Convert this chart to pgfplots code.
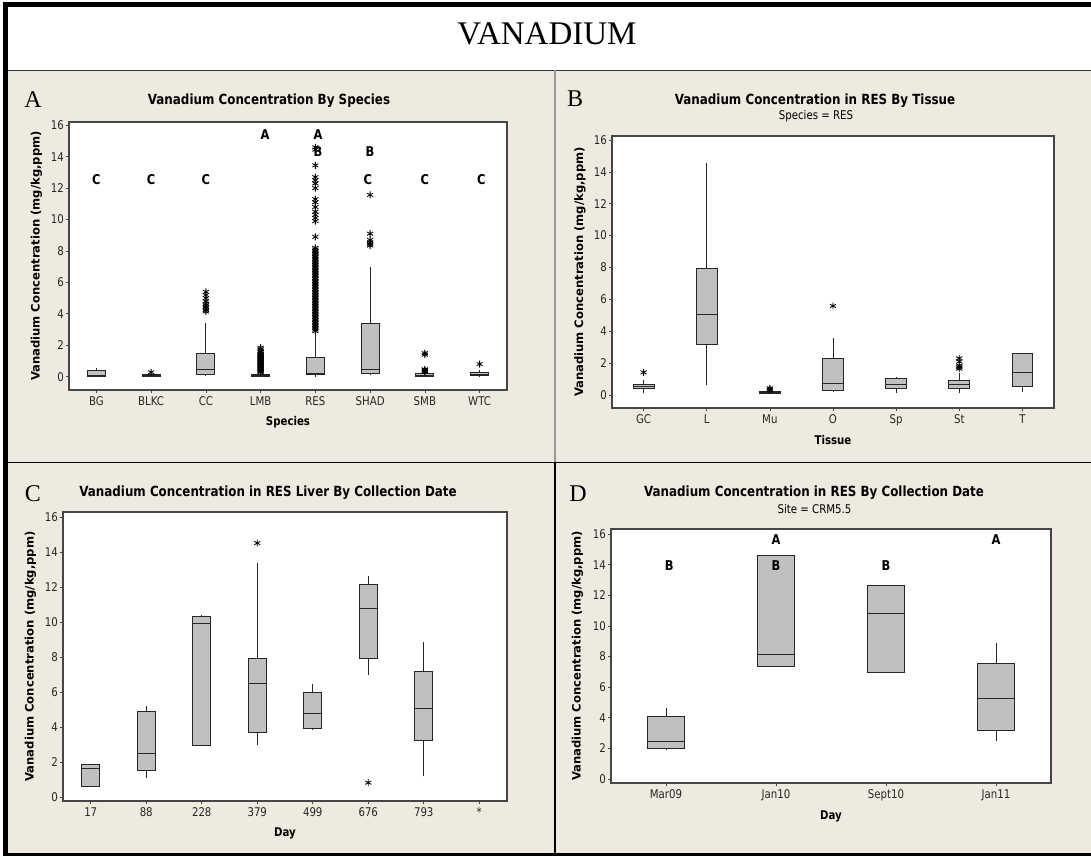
\documentclass[border=0pt]{standalone}
\usepackage{pgfplots}
\pgfplotsset{compat=1.18}
\usepgfplotslibrary{statistics}
\usepackage{fontspec}
\setmainfont{Liberation Serif}
\newfontfamily\mt[FakeStretch=0.85]{DejaVu Sans}
\newfontfamily\mtw{DejaVu Sans}

\definecolor{panelbg}{RGB}{238,234,224}
\definecolor{boxfill}{RGB}{192,192,192}
\definecolor{framegray}{RGB}{70,70,70}

\tikzset{grp/.style={font=\mt\bfseries\fontsize{13.5}{14}\selectfont}}

\pgfplotsset{
  mtaxis/.style={
    scale only axis,
    anchor=south west,
    axis background/.style={fill=white},
    axis line style={draw=framegray, line width=1.1pt},
    tick style={draw=framegray, line width=0.7pt},
    tick align=outside,
    major tick length=3pt,
    xtick pos=bottom, ytick pos=left,
    ytick={0,2,...,16},
    /pgf/number format/assume math mode=true,
    tick label style={font=\mt\fontsize{12}{12}\selectfont, text=black!85},
    yticklabel style={inner sep=2pt},
    xlabel style={font=\mt\bfseries\fontsize{12}{12}\selectfont, anchor=base},
    ylabel style={font=\mtw\bfseries\fontsize{11.6}{12}\selectfont, anchor=center},
    clip=false,
  },
  mtbox/.style={
    draw=black!85, fill=boxfill, line width=1pt,
    mark=asterisk, mark size=3.5pt,
    mark options={draw=black, line width=0.85pt},
    boxplot/draw direction=y,
    boxplot/box extend=0.33,
    boxplot/whisker extend=0,
  },
}

\begin{document}
\begin{tikzpicture}
\useasboundingbox (0pt,0pt) rectangle (1091pt,-856pt);
% page and panel backgrounds
\fill[white] (0pt,0pt) rectangle (1091pt,-856pt);
\fill[panelbg] (8pt,-70pt) rectangle (1091pt,-853pt);

% ---------------- A: by species ----------------
\begin{axis}[mtaxis,
  at={(69pt,-390pt)}, width=438pt, height=268pt,
  xmin=0.5, xmax=8.5, ymin=-0.847, ymax=16.21,
  xtick={1,...,8}, xticklabels={BG,BLKC,CC,LMB,RES,SHAD,SMB,WTC},
  xlabel={Species}, ylabel={Vanadium Concentration (mg/kg,ppm)},
  xlabel style={at={(axis description cs:0.5,-0.1306)}},
  ylabel style={at={(axis description cs:-0.0742,0.5)}},
]
\addplot[mtbox, boxplot prepared={draw position=1, lower whisker=0, lower quartile=0.04, median=0.08, upper quartile=0.40, upper whisker=0.53}] coordinates {};
\addplot[mtbox, boxplot prepared={draw position=2, lower whisker=0, lower quartile=0.03, median=0.06, upper quartile=0.12, upper whisker=0.18}] coordinates {(0,0.28)};
\addplot[mtbox, boxplot prepared={draw position=3, lower whisker=0.02, lower quartile=0.11, median=0.47, upper quartile=1.49, upper whisker=3.40}] coordinates {
  (0,4.15) (0,4.25) (0,4.35) (0,4.45) (0,4.55) (0,4.65) (0,4.8) (0,5.0) (0,5.2) (0,5.4)};
\addplot[mtbox, boxplot prepared={draw position=4, lower whisker=0, lower quartile=0.02, median=0.07, upper quartile=0.13, upper whisker=0.25}] coordinates {
  (0,0.28) (0,0.33) (0,0.38) (0,0.43) (0,0.48) (0,0.53) (0,0.58) (0,0.63) (0,0.68) (0,0.73)
  (0,0.78) (0,0.83) (0,0.88) (0,0.93) (0,0.98) (0,1.03) (0,1.08) (0,1.13) (0,1.18) (0,1.23)
  (0,1.28) (0,1.33) (0,1.38) (0,1.45) (0,1.55) (0,1.65) (0,1.75) (0,1.85)};
\addplot[mtbox, boxplot prepared={draw position=5, lower whisker=0, lower quartile=0.13, median=0.20, upper quartile=1.23, upper whisker=2.80}] coordinates {
  (0,2.9) (0,3.0) (0,3.1) (0,3.2) (0,3.3) (0,3.4) (0,3.5) (0,3.6) (0,3.7) (0,3.8)
  (0,3.9) (0,4.0) (0,4.1) (0,4.2) (0,4.3) (0,4.4) (0,4.5) (0,4.6) (0,4.7) (0,4.8)
  (0,4.9) (0,5.0) (0,5.1) (0,5.2) (0,5.3) (0,5.4) (0,5.5) (0,5.6) (0,5.7) (0,5.8)
  (0,5.9) (0,6.0) (0,6.1) (0,6.2) (0,6.3) (0,6.4) (0,6.5) (0,6.6) (0,6.7) (0,6.8)
  (0,6.9) (0,7.0) (0,7.1) (0,7.2) (0,7.3) (0,7.4) (0,7.5) (0,7.6) (0,7.7) (0,7.8)
  (0,7.9) (0,8.0) (0,8.1) (0,8.2)
  (0,8.9) (0,9.9) (0,10.1) (0,10.3) (0,10.5) (0,10.8) (0,11.1) (0,11.3)
  (0,12.0) (0,12.3) (0,12.5) (0,12.7) (0,13.45) (0,14.45) (0,14.6)};
\addplot[mtbox, boxplot prepared={draw position=6, lower whisker=0.1, lower quartile=0.21, median=0.47, upper quartile=3.40, upper whisker=7.0}] coordinates {
  (0,8.35) (0,8.45) (0,8.55) (0,8.7) (0,9.1) (0,11.57)};
\addplot[mtbox, boxplot prepared={draw position=7, lower whisker=0, lower quartile=0.04, median=0.10, upper quartile=0.21, upper whisker=0.27}] coordinates {
  (0,0.3) (0,0.36) (0,0.42) (0,0.47) (0,1.4) (0,1.5)};
\addplot[mtbox, boxplot prepared={draw position=8, lower whisker=0.03, lower quartile=0.06, median=0.15, upper quartile=0.25, upper whisker=0.45}] coordinates {(0,0.8)};
% grouping letters
\node[grp] at (axis cs:1,12.53) {C};
\node[grp] at (axis cs:2,12.53) {C};
\node[grp] at (axis cs:3,12.53) {C};
\node[grp] at (axis cs:4.08,15.39) {A};
\node[grp] at (axis cs:5.05,15.39) {A};
\node[grp] at (axis cs:5.05,14.33) {B};
\node[grp] at (axis cs:6,14.33) {B};
\node[grp] at (axis cs:5.96,12.53) {C};
\node[grp] at (axis cs:7,12.53) {C};
\node[grp] at (axis cs:8.03,12.53) {C};
\end{axis}

% ---------------- B: RES by tissue ----------------
\begin{axis}[mtaxis,
  at={(612pt,-408pt)}, width=442pt, height=272pt,
  xmin=0.5, xmax=7.5, ymin=-0.816, ymax=16.25,
  xtick={1,...,7}, xticklabels={GC,L,Mu,O,Sp,St,T},
  xlabel={Tissue}, ylabel={Vanadium Concentration (mg/kg,ppm)},
  xlabel style={at={(axis description cs:0.5,-0.1324)}},
  ylabel style={at={(axis description cs:-0.0724,0.5)}},
]
\addplot[mtbox, boxplot prepared={draw position=1, lower whisker=0.10, lower quartile=0.38, median=0.52, upper quartile=0.67, upper whisker=0.94}] coordinates {(0,1.42)};
\addplot[mtbox, boxplot prepared={draw position=2, lower whisker=0.63, lower quartile=3.18, median=5.08, upper quartile=7.93, upper whisker=14.58}] coordinates {};
\addplot[mtbox, boxplot prepared={draw position=3, lower whisker=0.08, lower quartile=0.10, median=0.14, upper quartile=0.20, upper whisker=0.25}] coordinates {(0,0.3) (0,0.35) (0,0.42)};
\addplot[mtbox, boxplot prepared={draw position=4, lower whisker=0.20, lower quartile=0.27, median=0.71, upper quartile=2.30, upper whisker=3.56}] coordinates {(0,5.59)};
\addplot[mtbox, boxplot prepared={draw position=5, lower whisker=0.15, lower quartile=0.40, median=0.67, upper quartile=1.05, upper whisker=1.10}] coordinates {};
\addplot[mtbox, boxplot prepared={draw position=6, lower whisker=0.10, lower quartile=0.38, median=0.63, upper quartile=0.88, upper whisker=1.36}] coordinates {(0,1.65) (0,1.75) (0,1.85) (0,2.1) (0,2.3)};
\addplot[mtbox, boxplot prepared={draw position=7, lower whisker=0.21, lower quartile=0.52, median=1.42, upper quartile=2.61, upper whisker=2.65}] coordinates {};
\end{axis}

% ---------------- C: RES liver by collection day ----------------
\begin{axis}[mtaxis,
  at={(63pt,-801pt)}, width=444pt, height=289pt,
  xmin=0.5, xmax=8.5, ymin=-0.229, ymax=16.286,
  xtick={1,...,8}, xticklabels={17,88,228,379,499,676,793,*},
  xlabel={Day}, ylabel={Vanadium Concentration (mg/kg,ppm)},
  xlabel style={at={(axis description cs:0.5,-0.1235)}},
  ylabel style={at={(axis description cs:-0.0732,0.5)}},
]
\addplot[mtbox, boxplot prepared={draw position=1, lower whisker=0.60, lower quartile=0.61, median=1.62, upper quartile=1.85, upper whisker=1.90}] coordinates {};
\addplot[mtbox, boxplot prepared={draw position=2, lower whisker=1.09, lower quartile=1.52, median=2.48, upper quartile=4.86, upper whisker=5.18}] coordinates {};
\addplot[mtbox, boxplot prepared={draw position=3, lower whisker=2.95, lower quartile=2.96, median=9.90, upper quartile=10.32, upper whisker=10.40}] coordinates {};
\addplot[mtbox, boxplot prepared={draw position=4, lower whisker=2.95, lower quartile=3.70, median=6.51, upper quartile=7.90, upper whisker=13.39}] coordinates {(0,14.51)};
\addplot[mtbox, boxplot prepared={draw position=5, lower whisker=3.83, lower quartile=3.94, median=4.76, upper quartile=5.96, upper whisker=6.44}] coordinates {};
\addplot[mtbox, boxplot prepared={draw position=6, lower whisker=6.99, lower quartile=7.90, median=10.78, upper quartile=12.17, upper whisker=12.61}] coordinates {(0,0.82)};
\addplot[mtbox, boxplot prepared={draw position=7, lower whisker=1.20, lower quartile=3.24, median=5.05, upper quartile=7.16, upper whisker=8.84}] coordinates {};
\end{axis}

% ---------------- D: RES at CRM5.5 by collection date ----------------
\begin{axis}[mtaxis,
  at={(611pt,-783pt)}, width=440pt, height=254pt,
  xmin=0.5, xmax=4.5, ymin=-0.261, ymax=16.33,
  xtick={1,...,4}, xticklabels={Mar09,Jan10,Sept10,Jan11},
  xlabel={Day}, ylabel={Vanadium Concentration (mg/kg,ppm)},
  xlabel style={at={(axis description cs:0.5,-0.143)}},
  ylabel style={at={(axis description cs:-0.076,0.5)}},
]
\addplot[mtbox, boxplot prepared={draw position=1, lower whisker=1.90, lower quartile=2.00, median=2.48, upper quartile=4.10, upper whisker=4.62}] coordinates {};
\addplot[mtbox, boxplot prepared={draw position=2, lower whisker=7.36, lower quartile=7.37, median=8.15, upper quartile=14.60, upper whisker=14.62}] coordinates {};
\addplot[mtbox, boxplot prepared={draw position=3, lower whisker=6.95, lower quartile=6.97, median=10.78, upper quartile=12.66, upper whisker=12.70}] coordinates {};
\addplot[mtbox, boxplot prepared={draw position=4, lower whisker=2.48, lower quartile=3.14, median=5.29, upper quartile=7.56, upper whisker=8.91}] coordinates {};
\node[grp] at (axis cs:2,15.62) {A};
\node[grp] at (axis cs:4,15.62) {A};
\node[grp] at (axis cs:1.03,13.94) {B};
\node[grp] at (axis cs:2,13.94) {B};
\node[grp] at (axis cs:3,13.94) {B};
\end{axis}

% ---------------- frame and separators ----------------
\fill[black] (3pt,-2pt) rectangle (1091pt,-7pt);
\fill[black] (3pt,-2pt) rectangle (8pt,-856pt);
\fill[black] (3pt,-853pt) rectangle (1091pt,-856pt);
\draw[line width=1.6pt, black!80] (8pt,-70.5pt) -- (1091pt,-70.5pt);
\draw[line width=1.6pt, black!40] (555pt,-70pt) -- (555pt,-462pt);
\draw[line width=1.9pt, black] (8pt,-462.5pt) -- (1091pt,-462.5pt);
\draw[line width=1.9pt, black] (555pt,-462pt) -- (555pt,-853pt);

% ---------------- headings ----------------
\node[anchor=base, font=\fontsize{33}{33}\selectfont] at (547pt,-45pt) {VANADIUM};
\node[anchor=base, font=\fontsize{24}{24}\selectfont] at (33pt,-107pt) {A};
\node[anchor=base, font=\fontsize{24}{24}\selectfont] at (575pt,-106.7pt) {B};
\node[anchor=base, font=\fontsize{24}{24}\selectfont] at (33pt,-501.7pt) {C};
\node[anchor=base, font=\fontsize{24}{24}\selectfont] at (578pt,-501pt) {D};
\node[anchor=base, font=\mt\bfseries\fontsize{14}{14}\selectfont] at (269pt,-105pt) {Vanadium Concentration By Species};
\node[anchor=base, font=\mt\bfseries\fontsize{14}{14}\selectfont] at (815pt,-104.5pt) {Vanadium Concentration in RES By Tissue};
\node[anchor=base, font=\mt\fontsize{12}{12}\selectfont] at (816pt,-120pt) {Species = RES};
\node[anchor=base, font=\mt\bfseries\fontsize{14}{14}\selectfont] at (268pt,-496.7pt) {Vanadium Concentration in RES Liver By Collection Date};
\node[anchor=base, font=\mt\bfseries\fontsize{14}{14}\selectfont] at (814pt,-496.7pt) {Vanadium Concentration in RES By Collection Date};
\node[anchor=base, font=\mt\fontsize{12}{12}\selectfont] at (814.5pt,-513pt) {Site = CRM5.5};
\end{tikzpicture}
\end{document}
